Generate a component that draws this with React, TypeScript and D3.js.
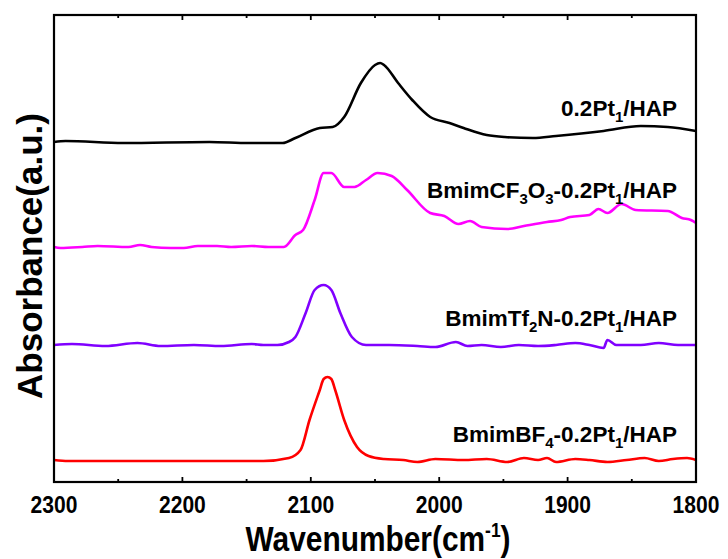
import React from "react";
import * as d3 from "d3";

// Wavenumber (cm-1) and absorbance (a.u., offset-stacked) per series
const blackW = [2300, 2291, 2246, 2179, 2148, 2122, 2112, 2093, 2083, 2074, 2061, 2050, 2046, 2043, 2032, 2021, 2007, 1992, 1981, 1963, 1949, 1927, 1909, 1872, 1843, 1822, 1800];
const blackA = [340, 341, 339, 340, 339, 339, 344, 354, 355, 365, 399, 417, 419, 417, 399, 382, 365, 359, 354, 347, 345, 344, 346, 351, 356, 355, 351];

const magW = [2300, 2295, 2278, 2266, 2242, 2233, 2224, 2209, 2199, 2188, 2173, 2162, 2146, 2133, 2121, 2112, 2106, 2097, 2090, 2084, 2074, 2066, 2057, 2048, 2037, 2025, 2007, 1996, 1985, 1976, 1967, 1947, 1934, 1916, 1905, 1898, 1883, 1876, 1869, 1858, 1847, 1822, 1811, 1804, 1800];
const magA = [235, 234, 235, 236, 235, 237, 235, 234, 234, 236, 236, 235, 236, 235, 235, 247, 252, 282, 309, 309, 295, 295, 302, 309, 306, 292, 269, 266, 258, 261, 255, 253, 256, 260, 262, 265, 267, 273, 269, 278, 272, 271, 264, 262, 259];

const purW = [2300, 2286, 2260, 2235, 2217, 2191, 2170, 2146, 2137, 2126, 2117, 2112, 2104, 2097, 2090, 2084, 2077, 2068, 2057, 2039, 2017, 2003, 1987, 1978, 1967, 1952, 1938, 1923, 1909, 1894, 1883, 1872, 1869, 1862, 1843, 1829, 1814, 1800];
const purA = [137, 138, 136, 139, 136, 137, 136, 138, 137, 137, 140, 145, 169, 192, 197, 192, 169, 145, 137, 137, 136, 135, 140, 136, 137, 135, 137, 136, 137, 139, 137, 134, 142, 137, 137, 139, 137, 137];

const redW = [2300, 2289, 2206, 2137, 2117, 2108, 2101, 2093, 2090, 2087, 2084, 2081, 2074, 2064, 2055, 2043, 2028, 2017, 2003, 1981, 1963, 1947, 1934, 1923, 1916, 1909, 1894, 1883, 1869, 1854, 1840, 1829, 1818, 1807, 1800];
const redA = [22, 21, 21, 21, 24, 32, 62, 92, 103, 105, 103, 92, 62, 35, 26, 23, 22, 20, 23, 22, 23, 20, 24, 22, 24, 20, 23, 22, 20, 22, 24, 21, 23, 24, 22];

const xTicks = [2300, 2200, 2100, 2000, 1900, 1800];
const xMinorTicks = [2250, 2150, 2050, 1950, 1850];

const seriesList = [
  { w: blackW, a: blackA, color: "#000000", label: [["0.2Pt", false], ["1", true], ["/HAP", false]] as [string, boolean][], labelA: 366 },
  { w: magW, a: magA, color: "#ff00ff", label: [["BmimCF", false], ["3", true], ["O", false], ["3", true], ["-0.2Pt", false], ["1", true], ["/HAP", false]] as [string, boolean][], labelA: 284 },
  { w: purW, a: purA, color: "#8000ff", label: [["BmimTf", false], ["2", true], ["N-0.2Pt", false], ["1", true], ["/HAP", false]] as [string, boolean][], labelA: 156 },
  { w: redW, a: redA, color: "#ff0000", label: [["BmimBF", false], ["4", true], ["-0.2Pt", false], ["1", true], ["/HAP", false]] as [string, boolean][], labelA: 40 },
];

const W = 728, H = 559;
const L = 54, R = 696, T = 15, B = 482;

export default function App() {
  const x = d3.scaleLinear().domain([2300, 1800]).range([L, R]);
  const y = d3.scaleLinear().domain([0, 467]).range([B, T]);
  const line = d3
    .line<[number, number]>()
    .x((d) => x(d[0]))
    .y((d) => y(d[1]))
    .curve(d3.curveMonotoneX);
  const sans = "'Liberation Sans', Arial, sans-serif";
  return (
    <svg width={W} height={H} style={{ position: "absolute", left: 0, top: 0, background: "#fff" }}>
      <defs>
        <clipPath id="plot">
          <rect x={L} y={T} width={R - L} height={B - T} />
        </clipPath>
      </defs>
      <g clipPath="url(#plot)">
        {seriesList.map((s, i) => (
          <path
            key={i}
            d={line(s.w.map((w, j) => [w, s.a[j]] as [number, number])) || ""}
            fill="none"
            stroke={s.color}
            strokeWidth={2.6}
            strokeLinejoin="round"
          />
        ))}
      </g>
      {seriesList.map((s, i) => (
        <text key={"l" + i} x={677} y={y(s.labelA)} textAnchor="end" fontFamily={sans} fontWeight="bold" fontSize={22.5} fill="#000">
          {s.label.map(([t, sub], k) =>
            sub ? (
              <tspan key={k} fontSize={15} dy={6}>{t}</tspan>
            ) : (
              <tspan key={k} dy={k > 0 && s.label[k - 1][1] ? -6 : 0}>{t}</tspan>
            )
          )}
        </text>
      ))}
      {/* frame */}
      <rect x={L} y={T} width={R - L} height={B - T} fill="none" stroke="#000" strokeWidth={2.2} />
      {/* ticks */}
      {xTicks.map((t) => (
        <g key={"t" + t}>
          <line x1={x(t)} x2={x(t)} y1={B} y2={B - 5} stroke="#000" strokeWidth={1.8} />
          <line x1={x(t)} x2={x(t)} y1={T} y2={T + 5} stroke="#000" strokeWidth={1.8} />
          <g transform={`translate(${x(t)}, 513) scale(0.86, 1)`}>
            <text x={0} y={0} textAnchor="middle" fontFamily={sans} fontWeight="bold" fontSize={24.5} fill="#000">
              {t}
            </text>
          </g>
        </g>
      ))}
      {xMinorTicks.map((t) => (
        <g key={"m" + t}>
          <line x1={x(t)} x2={x(t)} y1={B} y2={B - 3} stroke="#000" strokeWidth={1.8} />
          <line x1={x(t)} x2={x(t)} y1={T} y2={T + 3} stroke="#000" strokeWidth={1.8} />
        </g>
      ))}
      <g transform="translate(378, 551) scale(0.83, 1)">
        <text x={0} y={0} textAnchor="middle" fontFamily={sans} fontWeight="bold" fontSize={36} fill="#000">
          Wavenumber(cm<tspan fontSize={21} dy={-14}>-1</tspan><tspan dy={14}>)</tspan>
        </text>
      </g>
      <text
        transform={`translate(42, 256) rotate(-90)`}
        textAnchor="middle"
        fontFamily={sans}
        fontWeight="bold"
        fontSize={35}
        fill="#000"
      >
        Absorbance(a.u.)
      </text>
    </svg>
  );
}
